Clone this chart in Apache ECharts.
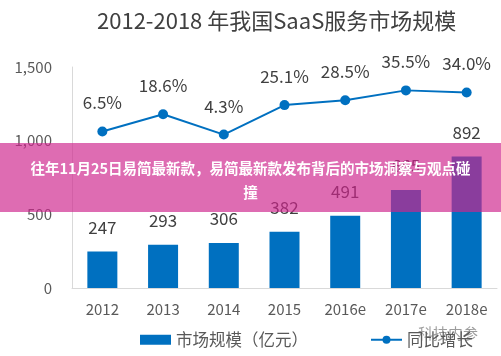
<!DOCTYPE html>
<html>
<head>
<meta charset="utf-8">
<script src="https://cdn.jsdelivr.net/npm/echarts@6/dist/echarts.min.js"></script>
<style>html,body{margin:0;padding:0;background:#fff;}#c{width:501px;height:356px;}</style>
</head>
<body>
<div id="c"></div>
<script>
var titleText = '2012-2018 年我国SaaS服务市场规模';
var categories = ['2012', '2013', '2014', '2015', '2016e', '2017e', '2018e'];
var marketSize = [247, 293, 306, 382, 491, 665, 892];
var growth = [6.5, 18.6, 4.3, 25.1, 28.5, 35.5, 34.0];
var yTicks = [0, 500, 1000, 1500];
var seriesNames = ['市场规模（亿元）', '同比增长'];
var bannerText = '往年11月25日易简最新款，易简最新款发布背后的市场洞察与观点碰\n撞';
var watermarkText = '科技内参';

var font = '"Microsoft YaHei","Noto Sans CJK SC","Noto Sans",sans-serif';
var chart = echarts.init(document.getElementById('c'), null, {renderer: 'canvas'});
chart.setOption({
  animation: false,
  backgroundColor: '#ffffff',
  title: {
    text: titleText, left: 92, top: 5,
    textStyle: {fontFamily: font, fontSize: 22, fontWeight: 'normal', color: '#404040'}
  },
  legend: {
    bottom: 3, left: 135, itemGap: 62,
    textStyle: {fontFamily: font, fontSize: 16.5, color: '#595959'},
    data: [
      {name: seriesNames[0], icon: 'rect', itemStyle: {color: '#0070c0'}},
      {name: seriesNames[1]}
    ],
    itemWidth: 31, itemHeight: 10
  },
  grid: {left: 72, right: 4, top: 67, bottom: 68},
  xAxis: {
    type: 'category', data: categories,
    axisLine: {lineStyle: {color: '#d9d9d9', width: 1}},
    axisTick: {show: false},
    axisLabel: {fontFamily: font, fontSize: 15, color: '#595959', margin: 14}
  },
  yAxis: [{
    type: 'value', min: yTicks[0], max: yTicks[yTicks.length - 1], interval: yTicks[1] - yTicks[0],
    axisLine: {show: true, lineStyle: {color: '#d9d9d9'}},
    axisTick: {show: false},
    splitLine: {show: false},
    axisLabel: {fontFamily: font, fontSize: 15, color: '#595959', margin: 20,
      formatter: function (v) { return v.toLocaleString('en-US'); }}
  }, {
    type: 'value', min: -104, max: 52, show: false, splitLine: {show: false}
  }],
  series: [{
    name: seriesNames[0], type: 'bar', data: marketSize, barWidth: 30,
    itemStyle: {color: '#0070c0'},
    label: {show: true, position: 'top', distance: 16, fontFamily: font, fontSize: 17, color: '#404040'}
  }, {
    name: seriesNames[1], type: 'line', yAxisIndex: 1, data: growth,
    symbol: 'circle', symbolSize: 10,
    lineStyle: {color: '#0070c0', width: 2}, itemStyle: {color: '#0070c0'},
    label: {show: true, position: 'top', distance: 15, fontFamily: font, fontSize: 17, color: '#404040',
      formatter: function (p) { return p.value.toFixed(1) + '%'; }}
  }],
  graphic: [{
    type: 'rect', left: 0, top: 143, z: 100,
    shape: {width: 501, height: 69},
    style: {fill: 'rgba(206,36,140,0.67)'}
  }, {
    type: 'text', left: 'center', top: 156, z: 101,
    style: {text: bannerText, fill: '#ffffff', font: 'bold 14.5px ' + font, textAlign: 'center', lineHeight: 24}
  }, {
    type: 'text', left: 418, top: 326, z: 101,
    style: {text: watermarkText, fill: 'rgba(90,90,90,0.6)', font: '15px ' + font}
  }]
});
</script>
</body>
</html>
